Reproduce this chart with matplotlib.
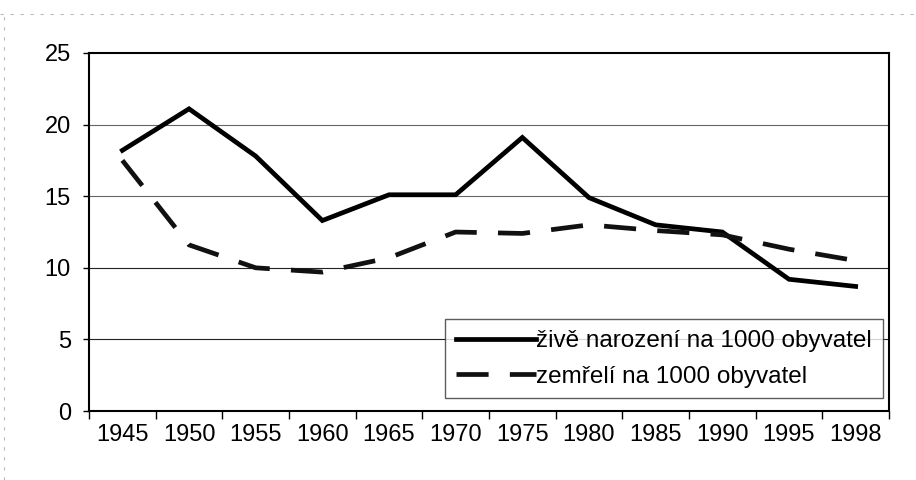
import matplotlib
matplotlib.use('agg')
import matplotlib.pyplot as plt
from matplotlib.lines import Line2D

# data ###############################################################

years = ['1945', '1950', '1955', '1960', '1965', '1970',
         '1975', '1980', '1985', '1990', '1995', '1998']
births = [18.2, 21.1, 17.8, 13.3, 15.1, 15.1, 19.1, 14.9, 13.0, 12.5, 9.2, 8.7]
deaths = [17.5, 11.6, 10.0, 9.7, 10.7, 12.5, 12.4, 13.0, 12.6, 12.3, 11.3, 10.5]
label_births = 'živě narození na 1000 obyvatel'
label_deaths = 'zemřelí na 1000 obyvatel'
yticks = [0, 5, 10, 15, 20, 25]

# plot ###############################################################

plt.rcParams['font.family'] = ['Liberation Sans', 'DejaVu Sans']

fig = plt.figure(figsize=(9.16, 4.8), dpi=100)
ax = fig.add_axes([0.0972, 0.1437, 0.8733, 0.7459])

x = list(range(len(years)))
ax.plot(x, births, color='black', lw=3.4, solid_joinstyle='miter',
        label=label_births, zorder=3)
ln, = ax.plot(x, deaths, color='#111111', lw=3.4, label=label_deaths, zorder=3)
ln.set_dashes((6.8, 4.5))

ax.set_xlim(-0.5, len(years) - 0.5)
ax.set_ylim(0, 25)
ax.set_yticks(yticks)
ax.set_yticklabels([str(v) for v in yticks], fontsize=17)
ax.set_xticks(x)
ax.set_xticklabels(years, fontsize=17)
ax.set_xticks([i - 0.5 for i in range(len(years) + 1)], minor=True)
ax.tick_params(axis='x', which='major', length=0, pad=9)
ax.tick_params(axis='x', which='minor', length=6, width=1, direction='out')
ax.tick_params(axis='y', length=4.5, width=1, direction='out', pad=8.5)

# upper gridlines come out lighter in the scan
for v in yticks[1:-1]:
    c = '#222222' if v <= 10 else '#666666'
    ax.axhline(v, color=c, lw=0.8, zorder=1)

for s in ax.spines.values():
    s.set_linewidth(1.5)
    s.set_color('black')

leg = ax.legend(loc='lower right', bbox_to_anchor=(0.992, 0.035), fontsize=17.5,
                frameon=True, fancybox=False, edgecolor='#333333',
                handlelength=3.3, handletextpad=0.0, borderpad=0.45,
                labelspacing=0.55, borderaxespad=0)
leg.get_frame().set_linewidth(1.0)

# faint scan border
fig.add_artist(Line2D([0.0, 1.0], [0.97, 0.97], transform=fig.transFigure,
                      color='#bbbbbb', lw=0.8, ls=(0, (3, 6))))
fig.add_artist(Line2D([0.004, 0.004], [0.0, 0.97], transform=fig.transFigure,
                      color='#bbbbbb', lw=0.8, ls=(0, (3, 6))))

plt.savefig('out.png', dpi=100)
